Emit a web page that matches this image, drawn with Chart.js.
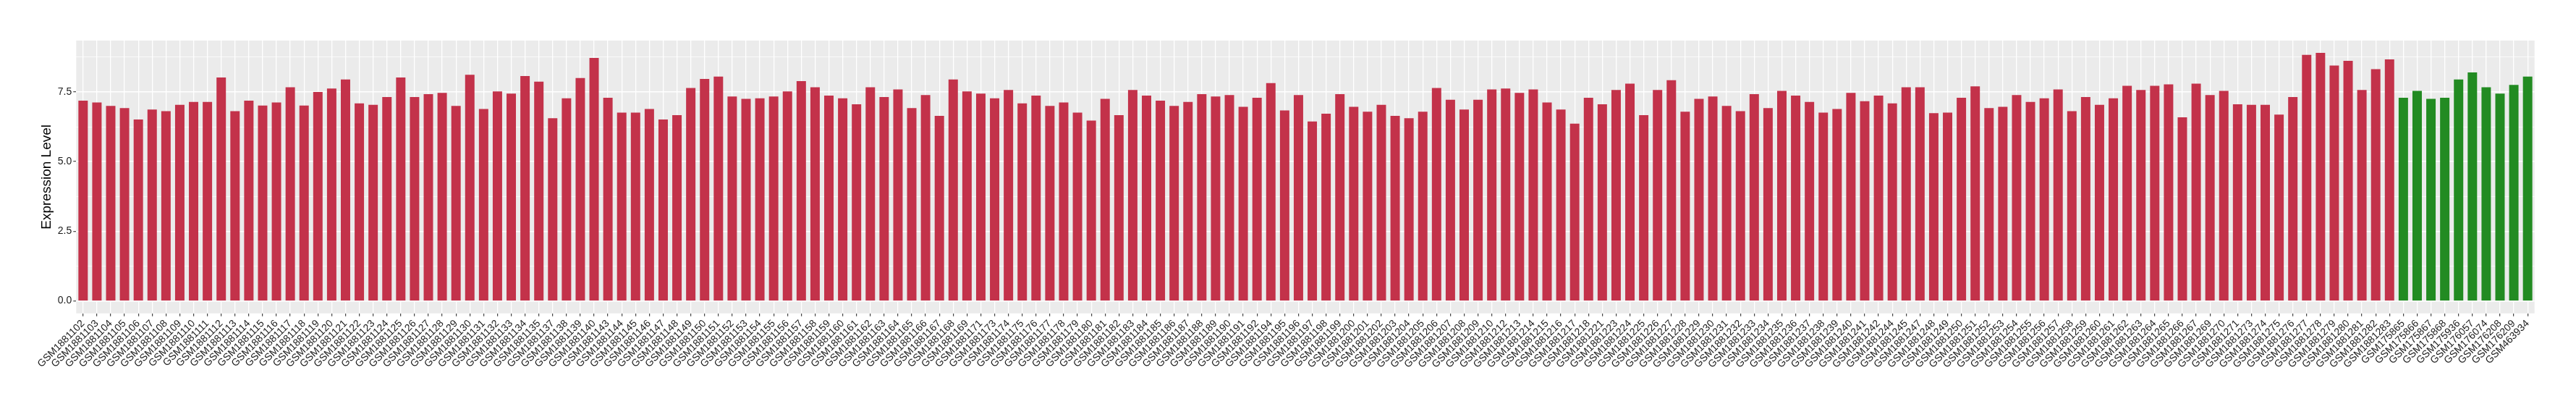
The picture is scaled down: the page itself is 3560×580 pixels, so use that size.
<!DOCTYPE html>
<html>
<head>
<meta charset="utf-8">
<script src="https://cdn.jsdelivr.net/npm/chart.js@4.4.1/dist/chart.umd.min.js"></script>
<style>
html, body { margin: 0; padding: 0; background: #fff; }
canvas { display: block; }
</style>
</head>
<body>
<canvas id="exprChart" width="3560" height="580"></canvas>
<script>
// tumour samples (red) and normal samples (green)
const tumorSamples = [
  'GSM1881102', 'GSM1881103', 'GSM1881104', 'GSM1881105', 'GSM1881106', 'GSM1881107', 'GSM1881108', 'GSM1881109',
  'GSM1881110', 'GSM1881111', 'GSM1881112', 'GSM1881113', 'GSM1881114', 'GSM1881115', 'GSM1881116', 'GSM1881117',
  'GSM1881118', 'GSM1881119', 'GSM1881120', 'GSM1881121', 'GSM1881122', 'GSM1881123', 'GSM1881124', 'GSM1881125',
  'GSM1881126', 'GSM1881127', 'GSM1881128', 'GSM1881129', 'GSM1881130', 'GSM1881131', 'GSM1881132', 'GSM1881133',
  'GSM1881134', 'GSM1881135', 'GSM1881137', 'GSM1881138', 'GSM1881139', 'GSM1881140', 'GSM1881143', 'GSM1881144',
  'GSM1881145', 'GSM1881146', 'GSM1881147', 'GSM1881148', 'GSM1881149', 'GSM1881150', 'GSM1881151', 'GSM1881152',
  'GSM1881153', 'GSM1881154', 'GSM1881155', 'GSM1881156', 'GSM1881157', 'GSM1881158', 'GSM1881159', 'GSM1881160',
  'GSM1881161', 'GSM1881162', 'GSM1881163', 'GSM1881164', 'GSM1881165', 'GSM1881166', 'GSM1881167', 'GSM1881168',
  'GSM1881169', 'GSM1881171', 'GSM1881173', 'GSM1881174', 'GSM1881175', 'GSM1881176', 'GSM1881177', 'GSM1881178',
  'GSM1881179', 'GSM1881180', 'GSM1881181', 'GSM1881182', 'GSM1881183', 'GSM1881184', 'GSM1881185', 'GSM1881186',
  'GSM1881187', 'GSM1881188', 'GSM1881189', 'GSM1881190', 'GSM1881191', 'GSM1881192', 'GSM1881194', 'GSM1881195',
  'GSM1881196', 'GSM1881197', 'GSM1881198', 'GSM1881199', 'GSM1881200', 'GSM1881201', 'GSM1881202', 'GSM1881203',
  'GSM1881204', 'GSM1881205', 'GSM1881206', 'GSM1881207', 'GSM1881208', 'GSM1881209', 'GSM1881210', 'GSM1881212',
  'GSM1881213', 'GSM1881214', 'GSM1881215', 'GSM1881216', 'GSM1881217', 'GSM1881218', 'GSM1881221', 'GSM1881223',
  'GSM1881224', 'GSM1881225', 'GSM1881226', 'GSM1881227', 'GSM1881228', 'GSM1881229', 'GSM1881230', 'GSM1881231',
  'GSM1881232', 'GSM1881233', 'GSM1881234', 'GSM1881235', 'GSM1881236', 'GSM1881237', 'GSM1881238', 'GSM1881239',
  'GSM1881240', 'GSM1881241', 'GSM1881242', 'GSM1881244', 'GSM1881245', 'GSM1881247', 'GSM1881248', 'GSM1881249',
  'GSM1881250', 'GSM1881251', 'GSM1881252', 'GSM1881253', 'GSM1881254', 'GSM1881255', 'GSM1881256', 'GSM1881257',
  'GSM1881258', 'GSM1881259', 'GSM1881260', 'GSM1881261', 'GSM1881262', 'GSM1881263', 'GSM1881264', 'GSM1881265',
  'GSM1881266', 'GSM1881267', 'GSM1881269', 'GSM1881270', 'GSM1881271', 'GSM1881273', 'GSM1881274', 'GSM1881275',
  'GSM1881276', 'GSM1881277', 'GSM1881278', 'GSM1881279', 'GSM1881280', 'GSM1881281', 'GSM1881282', 'GSM1881283'
];
const tumorLevels = [
  7.19, 7.12, 7.00, 6.92, 6.51, 6.87, 6.81, 7.04,
  7.14, 7.14, 8.02, 6.81, 7.19, 7.01, 7.12, 7.67,
  7.01, 7.50, 7.62, 7.95, 7.09, 7.04, 7.32, 8.02,
  7.32, 7.42, 7.47, 7.00, 8.12, 6.89, 7.52, 7.44,
  8.07, 7.87, 6.56, 7.27, 8.00, 8.72, 7.29, 6.76,
  6.76, 6.89, 6.51, 6.67, 7.64, 7.97, 8.05, 7.34,
  7.25, 7.27, 7.34, 7.52, 7.89, 7.67, 7.37, 7.27,
  7.06, 7.67, 7.32, 7.59, 6.92, 7.39, 6.64, 7.95,
  7.52, 7.44, 7.27, 7.57, 7.09, 7.37, 7.00, 7.12,
  6.76, 6.47, 7.25, 6.67, 7.57, 7.37, 7.19, 7.00,
  7.14, 7.42, 7.34, 7.39, 6.97, 7.29, 7.82, 6.84,
  7.39, 6.44, 6.72, 7.42, 6.97, 6.79, 7.04, 6.64,
  6.56, 6.79, 7.64, 7.22, 6.87, 7.22, 7.59, 7.62,
  7.47, 7.59, 7.12, 6.87, 6.36, 7.29, 7.06, 7.57,
  7.80, 6.67, 7.57, 7.92, 6.79, 7.25, 7.34, 7.00,
  6.81, 7.42, 6.92, 7.54, 7.37, 7.14, 6.76, 6.89,
  7.47, 7.17, 7.37, 7.09, 7.67, 7.67, 6.74, 6.76,
  7.29, 7.70, 6.92, 6.97, 7.39, 7.14, 7.27, 7.59,
  6.81, 7.32, 7.04, 7.27, 7.72, 7.57, 7.72, 7.77,
  6.59, 7.80, 7.39, 7.54, 7.06, 7.04, 7.04, 6.69,
  7.32, 8.83, 8.90, 8.45, 8.62, 7.57, 8.32, 8.67
];
const normalSamples = [
  'GSM175865', 'GSM175866', 'GSM175867', 'GSM175868', 'GSM175936',
  'GSM176057', 'GSM176074', 'GSM176208', 'GSM176209', 'GSM463934'
];
const normalLevels = [7.29, 7.54, 7.25, 7.29, 7.95, 8.20, 7.67, 7.44, 7.75, 8.05];

const yTickValues = [0, 2.5, 5, 7.5];
const yTickLabels = ['0.0', '2.5', '5.0', '7.5'];
const yMinorValues = [1.25, 3.75, 6.25, 8.75];

const labels = tumorSamples.concat(normalSamples);
const levels = tumorLevels.concat(normalLevels);
const barColors = tumorSamples.map(() => '#C3324A').concat(normalSamples.map(() => '#228B22'));

// ggplot-style 5% expansion of the y range
const yMax = Math.max(...levels);
const yPad = yMax * 0.05;
const isMajor = v => yTickValues.indexOf(v) >= 0;

const panelBg = {
  id: 'panelBg',
  beforeDraw(chart) {
    const { ctx, chartArea: a } = chart;
    ctx.save();
    ctx.fillStyle = '#EBEBEB';
    ctx.fillRect(a.left, a.top, a.right - a.left, a.bottom - a.top);
    ctx.restore();
  }
};

const font = 'Liberation Sans, Arial, Helvetica, sans-serif';

new Chart(document.getElementById('exprChart').getContext('2d'), {
  type: 'bar',
  data: {
    labels: labels,
    datasets: [{
      data: levels,
      backgroundColor: barColors,
      borderWidth: 0,
      barPercentage: 0.68,
      categoryPercentage: 1.0
    }]
  },
  plugins: [panelBg],
  options: {
    responsive: false,
    animation: false,
    devicePixelRatio: 1,
    layout: { padding: { top: 56, right: 57.3, bottom: 0, left: 0 } },
    plugins: {
      legend: { display: false },
      tooltip: { enabled: false }
    },
    scales: {
      x: {
        offset: true,
        grid: { color: '#FFFFFF', lineWidth: 1.3, offset: false, tickColor: '#333333', tickLength: 4, tickWidth: 1.1 },
        border: { display: false },
        ticks: {
          autoSkip: false,
          maxRotation: 45,
          minRotation: 45,
          color: '#1A1A1A',
          padding: 2,
          font: { family: font, size: 14 }
        },
        afterFit(s) { s.height = 147.3; }
      },
      y: {
        min: -yPad,
        max: yMax + yPad,
        afterBuildTicks(s) {
          s.ticks = yTickValues.concat(yMinorValues).sort((a, b) => a - b).map(v => ({ value: v }));
        },
        grid: {
          color: '#FFFFFF',
          lineWidth: c => isMajor(c.tick.value) ? 1.4 : 0.7,
          tickColor: c => isMajor(c.tick.value) ? '#333333' : 'rgba(0,0,0,0)',
          tickLength: 4,
          tickWidth: 1.1
        },
        border: { display: false },
        ticks: {
          color: '#1A1A1A',
          padding: 2,
          font: { family: font, size: 14 },
          callback: v => isMajor(v) ? yTickLabels[yTickValues.indexOf(v)] : ''
        },
        title: {
          display: true,
          text: 'Expression Level',
          color: '#000000',
          font: { family: font, size: 19 },
          padding: { top: 53.6, bottom: 0 }
        },
        afterFit(s) { s.width = 105.3; }
      }
    }
  }
});
</script>
</body>
</html>
